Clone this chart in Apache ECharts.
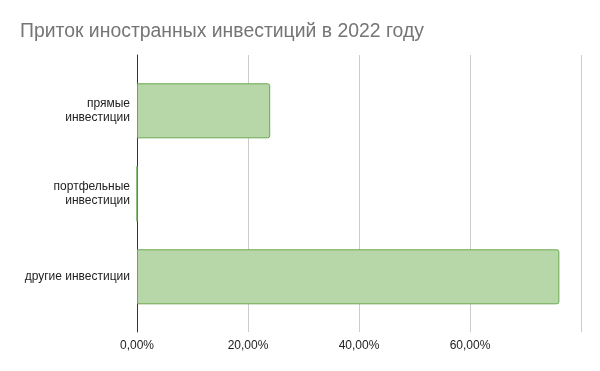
<!DOCTYPE html>
<html>
<head>
<meta charset="utf-8">
<script src="https://cdn.jsdelivr.net/npm/echarts@6/dist/echarts.min.js"></script>
<style>html,body{margin:0;padding:0;background:#fff}#c{width:600px;height:371px}</style>
</head>
<body>
<div id="c"></div>
<script>
var title = 'Приток иностранных инвестиций в 2022 году';
var categories = ['прямые\nинвестиции', 'портфельные\nинвестиции', 'другие инвестиции'];
var values = [24.0, 0, 76.1];
var axisMin = 0, axisMax = 80, axisStep = 20;

function fmt(v){ return v.toFixed(2).replace('.', ',') + '%'; }

var chart = echarts.init(document.getElementById('c'), null, {renderer:'canvas'});
chart.setOption({
  animation:false,
  title:{text:title, left:15, top:17, textStyle:{fontFamily:'Liberation Sans, Arial', fontSize:19.4, fontWeight:'normal', color:'#757575'}},
  grid:[
    {left:137, right:19, top:55, bottom:39},
    {left:137, right:19, top:69.3, height:249}
  ],
  xAxis:[
    {gridIndex:0, type:'value', min:axisMin, max:axisMax, interval:axisStep,
     axisLine:{show:false}, axisTick:{show:false},
     splitLine:{show:true, lineStyle:{color:'#cccccc', width:1}},
     axisLabel:{formatter:function(v){ return v===axisMax ? '' : fmt(v); }, color:'#222', fontFamily:'Liberation Sans, Arial', fontSize:12, margin:8}},
    {gridIndex:1, type:'value', min:axisMin, max:axisMax, show:false}
  ],
  yAxis:[
    {gridIndex:0, type:'value', min:0, max:1, axisLabel:{show:false}, axisTick:{show:false}, splitLine:{show:false},
     axisLine:{show:true, lineStyle:{color:'#333333', width:1}}},
    {gridIndex:1, type:'category', data:categories, inverse:true,
     axisLine:{show:false}, axisTick:{show:false},
     axisLabel:{color:'#222', fontFamily:'Liberation Sans, Arial', fontSize:12, lineHeight:14, margin:7, align:'right'}}
  ],
  series:[{
    type:'bar', xAxisIndex:1, yAxisIndex:1, data:values, barWidth:55,
    itemStyle:{color:'#b7d7a8', borderColor:'#6aa84f', borderWidth:1, borderRadius:[0,2,2,0]}
  }]
});
</script>
</body>
</html>
